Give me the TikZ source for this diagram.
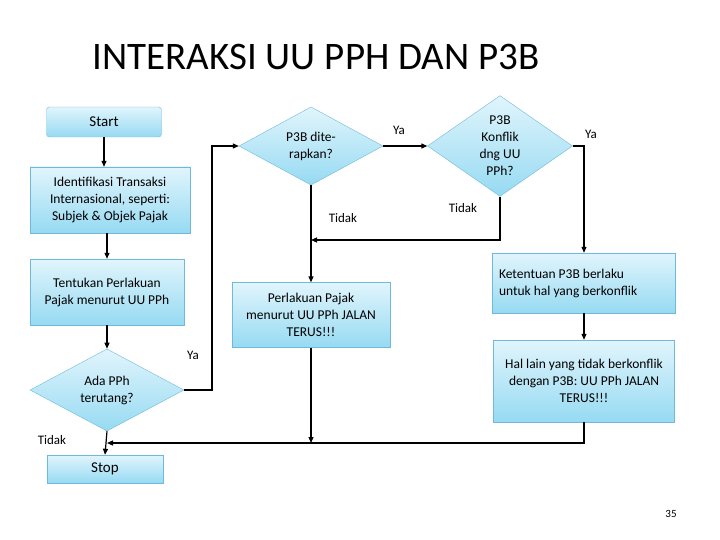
\documentclass[tikz,border=0pt]{standalone}
\usepackage{fontspec}
\setmainfont{Carlito}
\usetikzlibrary{shapes.geometric,arrows.meta}
\definecolor{bd}{RGB}{110,185,220}
\definecolor{fb}{RGB}{150,218,242}
\definecolor{ft}{RGB}{225,245,252}
\tikzset{
 boxs/.style={draw=bd,top color=ft,bottom color=fb,align=center,inner sep=2pt,font=\fontsize{13.5}{17}\selectfont},
 dia/.style={boxs,diamond,inner sep=0pt},
 flow/.style={line width=1.2pt,-{Triangle[length=6pt,width=5pt]}},
 lab/.style={font=\fontsize{13}{15}\selectfont}
}
\begin{document}
\begin{tikzpicture}[x=1pt,y=-1pt]
\useasboundingbox (0,0) rectangle (720,540);
\node[font=\fontsize{39}{44}\selectfont] (title) at (316,57) {INTERAKSI UU PPH DAN P3B};
\node[boxs,rounded corners=3pt,minimum width=115pt,minimum height=30pt,font=\fontsize{15}{17}\selectfont] (start) at (104,122) {Start};
\node[boxs,minimum width=160pt,minimum height=66pt] (ident) at (110,200) {Identifikasi Transaksi\\Internasional, seperti:\\Subjek \& Objek Pajak};
\node[boxs,minimum width=154pt,minimum height=66pt] (tentu) at (107,292) {Tentukan Perlakuan\\Pajak menurut UU PPh};
\node[dia,minimum width=154pt,minimum height=76pt] (ada) at (107,390) {Ada PPh\\terutang?};
\node[dia,minimum width=144pt,minimum height=77pt] (d1) at (311,146) {P3B dite-\\rapkan?};
\node[dia,minimum width=145pt,minimum height=77pt] (d2) at (500,146) {P3B\\Konflik\\dng UU\\PPh?};
\node[boxs,minimum width=158pt,minimum height=65pt] (perl) at (311,315) {Perlakuan Pajak\\menurut UU PPh JALAN\\TERUS!!!};
\node[boxs,minimum width=183pt,minimum height=60pt,align=flush left,text width=170pt] (ket) at (584,283) {Ketentuan P3B berlaku\\untuk hal yang berkonflik\\[12pt]};
\node[boxs,minimum width=181pt,minimum height=82pt] (hal) at (584,381) {Hal lain yang tidak berkonflik\\dengan P3B: UU PPh JALAN\\TERUS!!!};
\node[boxs,minimum width=116pt,minimum height=28pt,font=\fontsize{15}{17}\selectfont] (stop) at (105,469) {Stop};
\coordinate (j1) at (311,240);
\coordinate (j2) at (107,443);
\draw[flow] (start.south) -- (start.south |- ident.north);
\draw[flow] (ident.south -| tentu) -- (tentu);
\draw[flow] (tentu) -- (ada);
\draw[flow] (ada.east) -- (212,390) -- (212,146) -- (d1.west);
\draw[flow] (d1.east) -- (d2.west);
\draw[flow] (d2.east) -- (584,146) -- (ket.north);
\draw[flow] (ket) -- (hal);
\draw[flow] (d1.south) -- (perl.north);
\draw[flow] (d2.south) -- (500,240) -- (j1);
\draw[flow] (perl.south) -- (311,443);
\draw[flow] (hal.south) -- (hal.south |- j2) -- (j2);
\draw[flow] (ada.south) -- (stop.north);
\node[lab] (l1) at (399,130) {Ya};
\node[lab] (l2) at (591,134) {Ya};
\node[lab] (l3) at (343,218) {Tidak};
\node[lab] (l4) at (463,208) {Tidak};
\node[lab] (l5) at (193,355) {Ya};
\node[lab] (l6) at (52,440) {Tidak};
\node[font=\fontsize{11}{13}\selectfont] (pg) at (671,514) {35};
\end{tikzpicture}
\end{document}
